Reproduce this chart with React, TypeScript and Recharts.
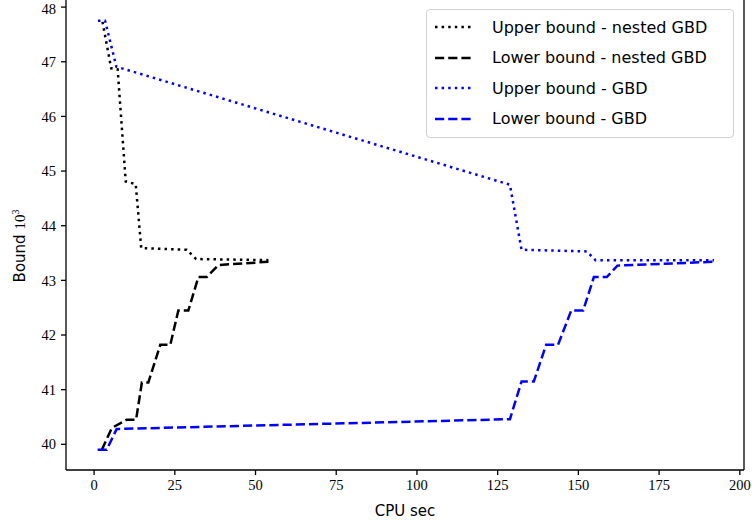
import React from 'react';
import { LineChart, Line, XAxis, YAxis, ReferenceLine } from 'recharts';

// values (CPU sec vs bound in 10^3)
const upperNestedX = [2.6, 5.3, 7.3, 9.8, 12.9, 14.6, 28.7, 31.6, 54.0];
const upperNestedY = [47.73, 46.88, 46.86, 44.81, 44.76, 43.59, 43.56, 43.39, 43.37];

const lowerNestedX = [2.4, 5.5, 10.1, 13.0, 14.8, 16.8, 20.5, 23.6, 26.1, 29.2, 32.3, 34.9, 38.5, 54.0];
const lowerNestedY = [39.9, 40.3, 40.45, 40.45, 41.13, 41.13, 41.82, 41.82, 42.45, 42.45, 43.06, 43.06, 43.28, 43.34];

const upperGbdX = [1.2, 3.4, 6.9, 128.8, 132.4, 152.6, 155.3, 192.0];
const upperGbdY = [47.75, 47.75, 46.91, 44.75, 43.56, 43.53, 43.37, 43.37];

const lowerGbdX = [1.1, 3.9, 7.0, 128.8, 132.4, 136.2, 140.0, 143.7, 147.8, 151.5, 154.8, 158.8, 162.1, 192.0];
const lowerGbdY = [39.9, 39.9, 40.28, 40.46, 41.15, 41.15, 41.82, 41.82, 42.45, 42.45, 43.06, 43.06, 43.27, 43.34];

const xTicks = [0, 25, 50, 75, 100, 125, 150, 175, 200];
const yTicks = [40, 41, 42, 43, 44, 45, 46, 47, 48];

const X_MIN = -8.7;
const X_MAX = 201.3;
const Y_MIN = 39.53;
const Y_MAX = 48.13;

const toPoints = (xs: number[], ys: number[]) => xs.map((x, i) => ({ x, y: ys[i] }));

const DOTTED = '2.5 4.1';
const DASHED = '9.2 4';

const series = [
    { name: 'Upper bound - nested GBD', color: '#000000', dash: DOTTED, data: toPoints(upperNestedX, upperNestedY) },
    { name: 'Lower bound - nested GBD', color: '#000000', dash: DASHED, data: toPoints(lowerNestedX, lowerNestedY) },
    { name: 'Upper bound - GBD', color: '#0000ff', dash: DOTTED, data: toPoints(upperGbdX, upperGbdY) },
    { name: 'Lower bound - GBD', color: '#0000ff', dash: DASHED, data: toPoints(lowerGbdX, lowerGbdY) },
];

const SANS = '"DejaVu Sans", sans-serif';
const SERIF = '"Liberation Serif", serif';

// legend drawn as an overlay so the chart doesn't reserve space for it
const LegendBox = () => (
    <div style={{
        position: 'absolute', left: 426, top: 9,
        width: 306, height: 125, border: '1px solid #d0d0d0', borderRadius: 4,
        background: 'rgba(255,255,255,0.8)', paddingTop: 2,
    }}>
        {series.map(s => (
            <div key={s.name} style={{ display: 'flex', alignItems: 'center', height: 30.5 }}>
                <svg width={38} height={6} style={{ marginLeft: 8 }}>
                    <line x1={0} y1={3} x2={38} y2={3} stroke={s.color} strokeWidth={2.5} strokeDasharray={s.dash} />
                </svg>
                <span style={{ marginLeft: 19, fontFamily: SANS, fontSize: 16, color: '#000' }}>{s.name}</span>
            </div>
        ))}
    </div>
);

const YLabel = () => (
    <text x={25} y={246} transform="rotate(-90 25 246)" textAnchor="middle" fontFamily={SANS} fontSize={15} fill="#000">
        Bound <tspan fontFamily={SERIF}>10</tspan><tspan fontFamily={SERIF} fontSize={10} dy={-6}>3</tspan>
    </text>
);

const XLabel = () => (
    <text x={405} y={516} textAnchor="middle" fontFamily={SANS} fontSize={15} fill="#000">CPU sec</text>
);

export default function App() {
    return (
        <div style={{ position: 'absolute', left: 0, top: 0, width: 752, height: 525, background: '#fff' }}>
            <LineChart width={752} height={525} margin={{ top: 0, right: 8, bottom: 0, left: 0 }}>
                <XAxis
                    type="number"
                    dataKey="x"
                    domain={[X_MIN, X_MAX]}
                    ticks={xTicks}
                    allowDataOverflow
                    height={55}
                    stroke="#000"
                    strokeWidth={1.3}
                    tickSize={5}
                    tickMargin={5}
                    tick={{ fill: '#000', fontFamily: SERIF, fontSize: 14.5 }}
                    label={<XLabel />}
                />
                <YAxis
                    type="number"
                    dataKey="y"
                    domain={[Y_MIN, Y_MAX]}
                    ticks={yTicks}
                    allowDataOverflow
                    width={66}
                    stroke="#000"
                    strokeWidth={1.3}
                    tickSize={5}
                    tickMargin={5}
                    tick={{ fill: '#000', fontFamily: SERIF, fontSize: 14.5 }}
                    label={<YLabel />}
                />
                <ReferenceLine x={X_MAX} stroke="#000" strokeWidth={1.3} />
                {series.map(s => (
                    <Line
                        key={s.name}
                        data={s.data}
                        dataKey="y"
                        name={s.name}
                        type="linear"
                        stroke={s.color}
                        strokeWidth={2.5}
                        strokeDasharray={s.dash}
                        dot={false}
                        activeDot={false}
                        isAnimationActive={false}
                    />
                ))}
            </LineChart>
            <LegendBox />
        </div>
    );
}
